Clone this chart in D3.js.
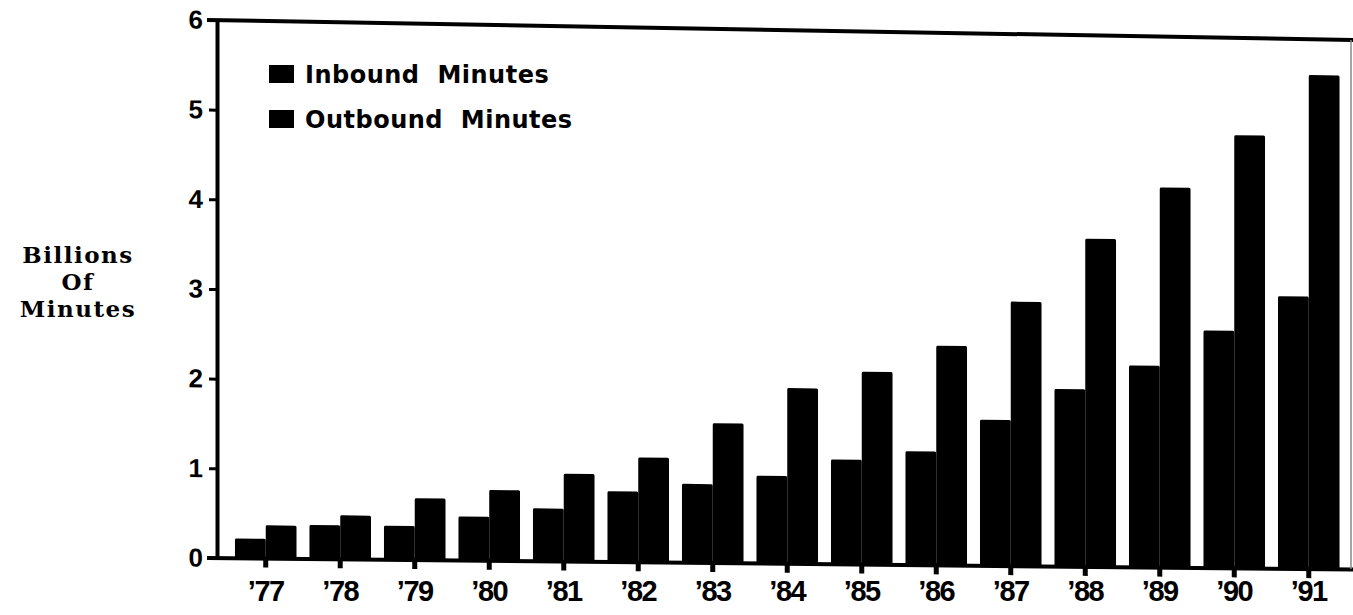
<!DOCTYPE html>
<html>
<head>
<meta charset="utf-8">
<script src="https://cdn.jsdelivr.net/npm/d3@7"></script>
<style>
  html, body { margin: 0; padding: 0; background: #fff; }
  svg { display: block; }
</style>
</head>
<body>
<script>
// ---- data ----
const years = ["’77","’78","’79","’80","’81","’82","’83","’84","’85","’86","’87","’88","’89","’90","’91"];
const seriesNames = ["Inbound Minutes", "Outbound Minutes"];
const inbound  = [0.22,0.38,0.38,0.49,0.59,0.79,0.88,0.98,1.17,1.27,1.63,1.98,2.25,2.65,3.04];
const outbound = [0.37,0.49,0.69,0.79,0.98,1.17,1.56,1.96,2.15,2.45,2.95,3.66,4.24,4.83,5.51];
const yTicks = [0,1,2,3,4,5,6];
const yTitle = ["Billions", "Of", "Minutes"];

const W = 1353, H = 615;
const svg = d3.select("body").append("svg").attr("width", W).attr("height", H);

const x0 = d3.scaleBand().domain(years).range([215, 1359.5]).paddingInner(0.174).paddingOuter(0.268);
const x1 = d3.scaleBand().domain(["in","out"]).range([0, x0.bandwidth()]);
const y = d3.scaleLinear().domain([0, 6]).range([558, 20]);

const sansBold = "'Liberation Sans', Arial, Helvetica, sans-serif";

// slightly skewed plot (scanned page)
const g = svg.append("g").attr("transform", "translate(215,0) skewY(0.584) translate(-215,0)");

// bars
const rows = years.map((yr, i) => ({yr, vals: [{k:"in", v: inbound[i]}, {k:"out", v: outbound[i]}]}));
g.append("g").selectAll("g").data(rows).join("g")
  .attr("transform", d => `translate(${x0(d.yr)},0)`)
  .selectAll("rect").data(d => d.vals).join("rect")
  .attr("x", d => x1(d.k))
  .attr("y", d => y(d.v))
  .attr("width", x1.bandwidth())
  .attr("height", d => y(0) - y(d.v))
  .attr("rx", 1.5)
  .attr("fill", "#000");

// frame: top line (slanted more than the base on the scan), right line
svg.append("line").attr("x1", 207).attr("x2", W).attr("y1", y(6)).attr("y2", y(6) + 20)
  .attr("stroke", "#000").attr("stroke-width", 4);
svg.append("line").attr("x1", 1351).attr("x2", 1351).attr("y1", y(6) + 20).attr("y2", y(0) + 11)
  .attr("stroke", "#888").attr("stroke-width", 1.5);

// x axis ticks (in skewed group)
const xAxisTicks = g.append("g").attr("transform", `translate(0,${y(0)})`)
  .call(d3.axisBottom(x0).tickSize(9).tickSizeOuter(0).tickFormat(""));
xAxisTicks.select(".domain").remove();
xAxisTicks.selectAll(".tick line").attr("stroke", "#000").attr("stroke-width", 5);
g.append("line").attr("x1", 207).attr("x2", W).attr("y1", y(0)).attr("y2", y(0))
  .attr("stroke", "#000").attr("stroke-width", 4);

// y axis
const yAxis = g.append("g").attr("transform", "translate(217,0)")
  .call(d3.axisLeft(y).tickValues(yTicks).tickFormat(d3.format("d")).tickSize(8).tickSizeOuter(0).tickPadding(6));
yAxis.select(".domain").attr("stroke", "#000").attr("stroke-width", 4);
yAxis.selectAll(".tick line").attr("stroke", "#000").attr("stroke-width", 3);
yAxis.selectAll(".tick text")
  .attr("font-family", sansBold).attr("font-weight", "bold").attr("font-size", 26).attr("fill", "#000");

// x axis labels (horizontal)
const xLabels = svg.append("g").attr("transform", "translate(0,570)")
  .call(d3.axisBottom(x0).tickSize(0).tickPadding(10));
xLabels.select(".domain").remove();
xLabels.selectAll(".tick text")
  .attr("font-family", sansBold).attr("font-weight", "bold").attr("font-size", 29)
  .attr("letter-spacing", -1.5).attr("fill", "#000");

// legend
const legend = svg.append("g");
seriesNames.forEach((name, i) => {
  const ly = 65 + i * 45;
  legend.append("rect").attr("x", 269).attr("y", ly).attr("width", 25).attr("height", 18).attr("fill", "#000");
  legend.append("text").attr("x", 305).attr("y", ly + 18)
    .attr("font-family", "'DejaVu Sans', sans-serif").attr("font-weight", "bold")
    .attr("font-size", 24).attr("letter-spacing", 0.5).attr("word-spacing", 9)
    .attr("fill", "#000").text(name);
});

// y title (three lines)
svg.append("g").selectAll("text").data(yTitle).join("text")
  .attr("x", 78).attr("y", (d, i) => 263 + i * 27)
  .attr("text-anchor", "middle")
  .attr("font-family", "'DejaVu Serif', serif").attr("font-weight", "bold")
  .attr("font-size", 23).attr("letter-spacing", 1.5).attr("fill", "#000")
  .text(d => d);
</script>
</body>
</html>
